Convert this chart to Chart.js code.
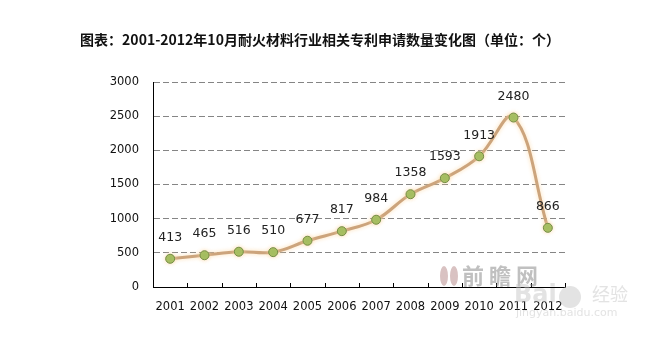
<!DOCTYPE html>
<html>
<head>
<meta charset="utf-8">
<script src="https://cdn.jsdelivr.net/npm/chart.js@4.4.0/dist/chart.umd.min.js"></script>
<style>
    html, body { margin: 0; padding: 0; background: #fff; }
    #wrap { width: 671px; height: 339px; position: relative; }
</style>
</head>
<body>
<div id="wrap"><canvas id="chart"></canvas></div>
<script>
const years = ["2001", "2002", "2003", "2004", "2005", "2006", "2007", "2008", "2009", "2010", "2011", "2012"];
const patents = [413, 465, 516, 510, 677, 817, 984, 1358, 1593, 1913, 2480, 866];
const yTicks = [0, 500, 1000, 1500, 2000, 2500, 3000];
const titleText = "图表：2001-2012年10月耐火材料行业相关专利申请数量变化图（单位：个）";

// title, point labels, inner x ticks and the faint watermarks
const extras = {
    id: "extras",
    beforeDatasetsDraw(chart) {
        const ctx = chart.ctx;
        const area = chart.chartArea;
        ctx.save();
        ctx.strokeStyle = "#000";
        ctx.lineWidth = 1;
        const step = (area.right - area.left) / years.length;
        for (let i = 1; i <= years.length; i++) {
            const x = Math.round(area.left + i * step) + 0.5;
            ctx.beginPath();
            ctx.moveTo(x, area.bottom - 4);
            ctx.lineTo(x, area.bottom);
            ctx.stroke();
        }
        // watermarks
        ctx.textAlign = "left";
        ctx.textBaseline = "middle";
        ctx.fillStyle = "rgba(170,120,120,0.45)";
        ctx.beginPath();
        ctx.ellipse(444, 276, 4, 10, 0, 0, Math.PI * 2);
        ctx.ellipse(454, 276, 4, 10, 0, 0, Math.PI * 2);
        ctx.fill();
        ctx.fillStyle = "rgba(130,130,130,0.5)";
        ctx.font = "bold 22px 'Noto Sans CJK SC'";
        ctx.fillText("前 瞻 网", 462, 276);
        ctx.fillStyle = "rgba(200,200,200,0.5)";
        ctx.font = "bold 24px 'DejaVu Sans'";
        ctx.fillText("Bai", 514, 296);
        ctx.beginPath();
        ctx.arc(570, 297, 11, 0, Math.PI * 2);
        ctx.fill();
        ctx.font = "18px 'Noto Sans CJK SC'";
        ctx.fillText("经验", 592, 294);
        ctx.font = "11px 'DejaVu Sans'";
        ctx.fillText("jingyan.baidu.com", 516, 313);
        ctx.restore();
    },
    afterDatasetsDraw(chart) {
        const ctx = chart.ctx;
        const meta = chart.getDatasetMeta(0);
        ctx.save();
        ctx.fillStyle = "#222";
        ctx.font = "12.5px 'DejaVu Sans'";
        ctx.textAlign = "center";
        ctx.textBaseline = "middle";
        meta.data.forEach((pt, i) => {
            ctx.fillText(String(patents[i]), pt.x, pt.y - 21);
        });
        ctx.fillStyle = "#111";
        ctx.font = "bold 14px 'Noto Sans CJK SC'";
        ctx.fillText(titleText, 320, 40);
        ctx.restore();
    }
};

const glow = {
    id: "glow",
    beforeDatasetDraw(chart) {
        chart.ctx.save();
        chart.ctx.shadowColor = "rgba(252,215,160,0.8)";
        chart.ctx.shadowBlur = 4;
    },
    afterDatasetDraw(chart) {
        chart.ctx.restore();
    }
};

new Chart(document.getElementById("chart"), {
    type: "line",
    data: {
        labels: years,
        datasets: [{
            data: patents,
            borderColor: "#CCA47C",
            borderWidth: 3,
            tension: 0.4,
            pointRadius: 4.5,
            pointBackgroundColor: "#9BBB59",
            pointBorderColor: "#748C45",
            pointBorderWidth: 1,
            fill: false
        }]
    },
    options: {
        responsive: true,
        maintainAspectRatio: false,
        animation: false,
        layout: { padding: { top: 82, right: 106, bottom: 0, left: 0 } },
        plugins: {
            legend: { display: false },
            tooltip: { enabled: false },
            title: { display: false }
        },
        scales: {
            x: {
                offset: true,
                grid: { display: false },
                border: { display: true, color: "#000", width: 1 },
                ticks: {
                    color: "#111",
                    font: { family: "DejaVu Sans", size: 11.5 },
                    padding: 5,
                    maxRotation: 0,
                    autoSkip: false
                },
                afterFit(scale) { scale.height = 52; }
            },
            y: {
                min: 0,
                max: 3000,
                afterBuildTicks(scale) { scale.ticks = yTicks.map(v => ({ value: v })); },
                grid: {
                    color: (c) => c.tick && c.tick.value === 0 ? "rgba(0,0,0,0)" : "#858585",
                    drawTicks: false
                },
                border: { display: true, color: "#000", width: 1, dash: [6, 3] },
                ticks: {
                    color: "#111",
                    font: { family: "DejaVu Sans", size: 11.5 },
                    padding: 14,
                    callback: (v) => String(v)
                },
                afterFit(scale) { scale.width = 153; }
            }
        }
    },
    plugins: [extras, glow]
});
</script>
</body>
</html>
